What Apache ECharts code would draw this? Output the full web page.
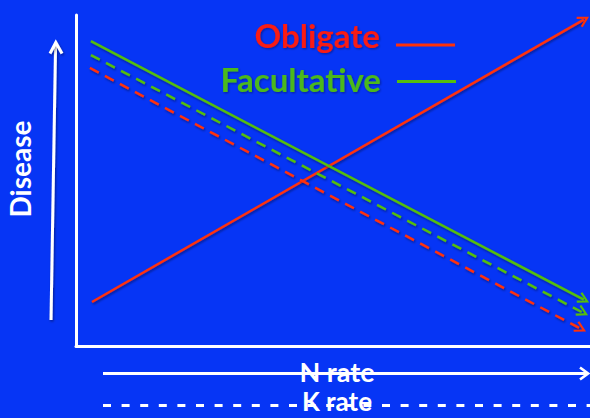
<!DOCTYPE html>
<html>
<head>
<meta charset="utf-8">
<script src="https://cdn.jsdelivr.net/npm/echarts@6/dist/echarts.min.js"></script>
<style>
  html, body { margin: 0; padding: 0; background: #0635f5; }
  #chart { width: 590px; height: 418px; }
</style>
</head>
<body>
<div id="chart"></div>
<script>
// Response lines: [N or K rate, disease] at the start and at the arrow end
const obligateN    = [[0.31, 1.33], [9.88, 9.86]];
const facultativeN = [[0.29, 9.21], [9.88, 1.40]];
const facultativeK = [[0.29, 8.79], [9.86, 1.01]];
const obligateK    = [[0.27, 8.40], [9.82, 0.52]];

const seriesNames = ['Obligate', 'Facultative'];
const axisTitles = { y: 'Disease', n: 'N rate', k: 'K rate' };

const BG = '#0635f5';
const RED = '#ff300a';
const RED_TEXT = '#f81a12';
const GREEN = '#55be0c';
const GREEN_TEXT = '#4cb81a';
const WHITE = '#ffffff';
const FONT = 'Lato, "Open Sans", sans-serif';

// open chevron arrowhead, pointing up (rotated along the line by echarts)
const ARROW = 'path://M0,11 L6.5,0 L13,11 L11,12.3 L6.5,4.4 L2,12.3 Z';
// soft drop shadow for slanted strokes
const SHADOW = { shadowColor: 'rgba(0,0,20,0.45)', shadowBlur: 2, shadowOffsetX: 1, shadowOffsetY: 1.5 };
const TEXT_SHADOW = { textShadowColor: 'rgba(0,0,20,0.4)', textShadowBlur: 2, textShadowOffsetX: 1, textShadowOffsetY: 1 };

function arrowLine(name, coords, color, dashed) {
  return {
    name: name,
    type: 'lines',
    coordinateSystem: 'cartesian2d',
    polyline: false,
    symbol: ['none', ARROW],
    symbolSize: [13, 12],
    lineStyle: Object.assign({ color: color, width: 2.5, type: dashed ? [10, 7] : 'solid', opacity: 1 }, SHADOW),
    emphasis: { disabled: true },
    silent: true,
    animation: false,
    data: [{ coords: coords }]
  };
}

const plainAxis = {
  type: 'value', min: 0, max: 10,
  axisLine: { show: true, onZero: false, lineStyle: { color: WHITE, width: 3 } },
  axisTick: { show: false }, axisLabel: { show: false }, splitLine: { show: false }
};

const legendText = Object.assign({ fontSize: 33, fontWeight: 'bold', fontFamily: FONT, padding: [0, 11, 0, 0] }, TEXT_SHADOW);

const chart = echarts.init(document.getElementById('chart'), null, { renderer: 'svg' });

chart.setOption({
  backgroundColor: BG,
  animation: false,
  grid: { left: 76, right: 0, top: 15, bottom: 72 },
  xAxis: plainAxis,
  yAxis: plainAxis,
  legend: [
    {
      data: [{ name: seriesNames[0], itemStyle: { color: RED, borderWidth: 0 }, textStyle: { color: RED_TEXT } }],
      right: 135, top: 18, padding: 0, align: 'right', orient: 'vertical',
      // sample bar sits low in its box, below the text centre
      icon: 'path://M0,0L0.001,0L0,0.001Z M0,21L59,21L59,24L0,24Z',
      itemWidth: 59, itemHeight: 24, selectedMode: false,
      textStyle: legendText
    },
    {
      data: [{ name: seriesNames[1], itemStyle: { color: GREEN, borderWidth: 0 }, textStyle: { color: GREEN_TEXT } }],
      right: 134, top: 62, padding: 0, align: 'right', orient: 'vertical',
      icon: 'path://M0,0L0.001,0L0,0.001Z M0,5.8L59,5.8L59,8.8L0,8.8Z',
      itemWidth: 59, itemHeight: 8.8, selectedMode: false,
      textStyle: legendText
    }
  ],
  graphic: [
    // disease arrow beside the y axis
    { type: 'line', shape: { x1: 51, y1: 320, x2: 55.6, y2: 43 }, style: Object.assign({ stroke: WHITE, lineWidth: 3 }, SHADOW), silent: true },
    { type: 'polyline', shape: { points: [[50, 53.5], [55.8, 42.5], [62, 53.5]] }, style: Object.assign({ stroke: WHITE, lineWidth: 3, fill: null }, SHADOW), silent: true },
    { type: 'text', x: 20, y: 169, rotation: Math.PI / 2,
      style: { text: axisTitles.y, fill: WHITE, font: 'bold 28px ' + FONT, align: 'center', verticalAlign: 'middle' }, silent: true },
    // N rate arrow
    { type: 'text', x: 337, y: 371,
      style: { text: axisTitles.n, fill: WHITE, font: 'bold 27px ' + FONT, align: 'center', verticalAlign: 'middle' }, silent: true },
    { type: 'line', shape: { x1: 103, y1: 373.5, x2: 587, y2: 373.5 }, style: { stroke: WHITE, lineWidth: 3 }, silent: true },
    { type: 'polyline', shape: { points: [[580, 367.5], [588, 373.5], [580, 379.5]] }, style: { stroke: WHITE, lineWidth: 2.6, fill: null }, silent: true },
    // K rate dashed line
    { type: 'text', x: 337, y: 401,
      style: { text: axisTitles.k, fill: WHITE, font: 'bold 26px ' + FONT, align: 'center', verticalAlign: 'middle' }, silent: true },
    { type: 'line', shape: { x1: 103, y1: 405.5, x2: 590, y2: 405.5 }, style: { stroke: WHITE, lineWidth: 3, lineDash: [8, 10.6] }, silent: true }
  ],
  series: [
    arrowLine(seriesNames[0], obligateN, RED, false),
    arrowLine(seriesNames[1], facultativeN, GREEN, false),
    arrowLine(seriesNames[1] + ' K', facultativeK, GREEN, true),
    arrowLine(seriesNames[0] + ' K', obligateK, RED, true)
  ]
});
</script>
</body>
</html>
